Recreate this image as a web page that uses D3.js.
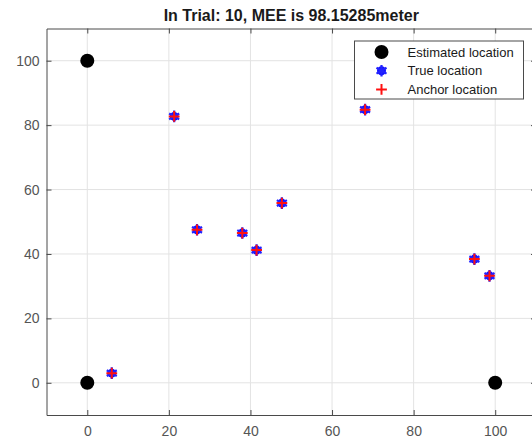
<!DOCTYPE html>
<html>
<head>
<meta charset="utf-8">
<script src="https://cdn.jsdelivr.net/npm/d3@7"></script>
<style>
  body { margin: 0; background: #fff; }
  svg { display: block; font-family: "Liberation Sans", Arial, sans-serif; }
</style>
</head>
<body>
<svg id="chart" width="532" height="443"></svg>
<script>
const titleText = 'In Trial: 10, MEE is 98.15285meter';

const estimatedX = [0, 0, 100];
const estimatedY = [100, 0, 0];

const trueX = [6, 21.3, 26.9, 38.0, 41.5, 47.7, 68.1, 94.9, 98.6];
const trueY = [3, 82.7, 47.5, 46.5, 41.2, 55.8, 84.8, 38.4, 33.2];

// anchors sit on the true locations
const anchorX = trueX.slice();
const anchorY = trueY.slice();

const xTicks = [0, 20, 40, 60, 80, 100];
const yTicks = [0, 20, 40, 60, 80, 100];

const legendLabels = ['Estimated location', 'True location', 'Anchor location'];

const CONFIG = {
  box: { left: 46.5, right: 536, top: 28.5, bottom: 415 },
  axisColor: '#4a4a4a',
  tickColor: '#555',
  gridColor: '#e3e3e3',
};

const main = ({ box, axisColor, tickColor, gridColor }) => {
  const svg = d3.select('#chart');

  const x = d3.scaleLinear().domain([-10, 110]).range([box.left, box.right]);
  const y = d3.scaleLinear().domain([-10, 110]).range([box.bottom, box.top]);

  // grid
  const grid = svg.append('g').attr('class', 'grid');
  grid.selectAll('.gx').data(xTicks).join('line')
      .attr('class', 'gx')
      .attr('x1', d => x(d)).attr('x2', d => x(d))
      .attr('y1', box.top).attr('y2', box.bottom)
      .attr('stroke', gridColor).attr('stroke-width', 1);
  grid.selectAll('.gy').data(yTicks).join('line')
      .attr('class', 'gy')
      .attr('x1', box.left).attr('x2', box.right)
      .attr('y1', d => y(d)).attr('y2', d => y(d))
      .attr('stroke', gridColor).attr('stroke-width', 1);

  // axes, ticks pointing inward on all four sides
  const styleAxis = g => {
    g.select('.domain').attr('stroke', axisColor);
    g.selectAll('.tick line').attr('stroke', axisColor);
    g.selectAll('.tick text')
        .attr('fill', tickColor)
        .attr('font-size', 14);
  };

  svg.append('g')
      .attr('transform', `translate(0,${box.bottom})`)
      .call(d3.axisBottom(x).tickValues(xTicks).tickSizeInner(-5).tickSizeOuter(0).tickPadding(11))
      .call(styleAxis);
  svg.append('g')
      .attr('transform', `translate(0,${box.top})`)
      .call(d3.axisTop(x).tickValues(xTicks).tickSizeInner(-5).tickSizeOuter(0).tickFormat(''))
      .call(styleAxis);
  svg.append('g')
      .attr('transform', `translate(${box.left},0)`)
      .call(d3.axisLeft(y).tickValues(yTicks).tickSizeInner(-5).tickSizeOuter(0).tickPadding(7))
      .call(styleAxis);
  svg.append('g')
      .attr('transform', `translate(${box.right},0)`)
      .call(d3.axisRight(y).tickValues(yTicks).tickSizeInner(-5).tickSizeOuter(0).tickFormat(''))
      .call(styleAxis);

  // markers
  const drawEstimated = (g, cx, cy) => g.append('circle')
      .attr('cx', cx).attr('cy', cy).attr('r', 7).attr('fill', '#000');

  const drawTrue = (g, cx, cy) => {
    g.append('circle').attr('cx', cx).attr('cy', cy).attr('r', 4.5).attr('fill', '#1010ff');
    g.append('path')
        .attr('transform', `translate(${cx},${cy})`)
        .attr('d', d3.symbol(d3.symbolAsterisk, 95)())
        .attr('fill', 'none').attr('stroke', '#2222ff').attr('stroke-width', 2.2);
  };

  const drawAnchor = (g, cx, cy) => g.append('path')
      .attr('transform', `translate(${cx},${cy})`)
      .attr('d', d3.symbol(d3.symbolPlus, 40)())
      .attr('fill', 'none').attr('stroke', '#ff1010').attr('stroke-width', 2);

  const marks = svg.append('g').attr('class', 'marks');
  estimatedX.forEach((v, i) => drawEstimated(marks, x(v), y(estimatedY[i])));
  trueX.forEach((v, i) => drawTrue(marks, x(v), y(trueY[i])));
  anchorX.forEach((v, i) => drawAnchor(marks, x(v), y(anchorY[i])));

  // title
  svg.append('text')
      .attr('x', (box.left + box.right) / 2)
      .attr('y', 20.5)
      .attr('text-anchor', 'middle')
      .attr('font-size', 16)
      .attr('font-weight', 'bold')
      .attr('fill', '#1a1a1a')
      .text(titleText);

  // legend
  const legend = svg.append('g').attr('transform', 'translate(354.5,41)');
  legend.append('rect')
      .attr('width', 169).attr('height', 58)
      .attr('fill', '#fff').attr('stroke', axisColor).attr('stroke-width', 1);
  const drawers = [drawEstimated, drawTrue, drawAnchor];
  legendLabels.forEach((label, i) => {
    const ly = 11 + i * 18.7;
    drawers[i](legend, 27, ly);
    legend.append('text')
        .attr('x', 53).attr('y', ly)
        .attr('dy', '0.35em')
        .attr('font-size', 13)
        .attr('fill', '#1a1a1a')
        .text(label);
  });
};

main(CONFIG);
</script>
</body>
</html>
